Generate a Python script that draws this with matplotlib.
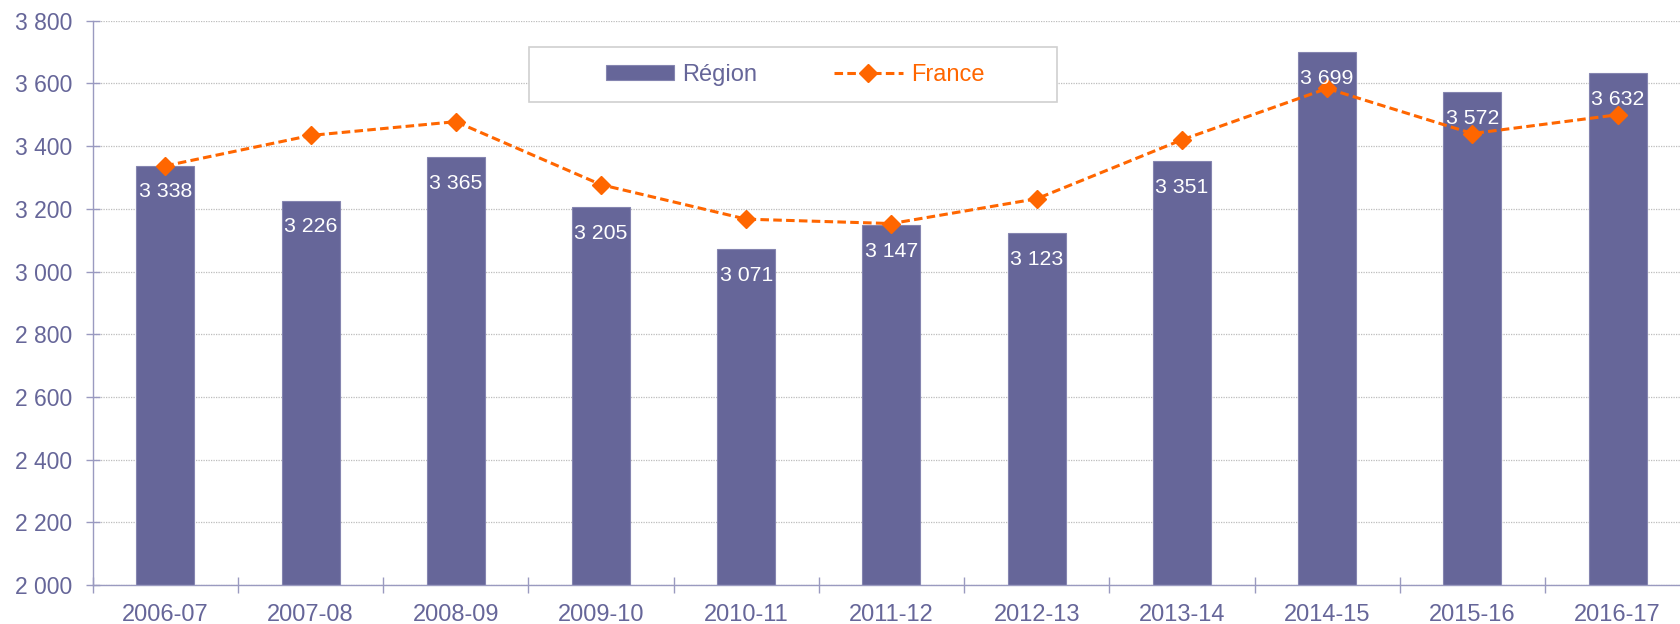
import matplotlib
matplotlib.use("Agg")
import matplotlib.pyplot as plt
from matplotlib.patches import Rectangle
from matplotlib.ticker import FixedLocator, FuncFormatter

## Data
years = ["2006-07", "2007-08", "2008-09", "2009-10", "2010-11", "2011-12",
         "2012-13", "2013-14", "2014-15", "2015-16", "2016-17"]
region = [3338, 3226, 3365, 3205, 3071, 3147, 3123, 3351, 3699, 3572, 3632]
france = [3337, 3434, 3478, 3277, 3167, 3153, 3232, 3420, 3584, 3440, 3500]

PURPLE = "#666699"
ORANGE = "#FF6600"
AXIS = "#9a9ac0"

plt.rcParams["font.family"] = ["Liberation Sans", "DejaVu Sans"]

def fmt(v):
    return f"{int(v):,}".replace(",", " ")

fig = plt.figure(figsize=(16.8, 6.24), dpi=100)
ax = fig.add_axes([0.0552, 0.0625, 0.9448, 0.9043])

x = list(range(len(years)))
bars = ax.bar(x, region, width=0.4, color=PURPLE, edgecolor="#8585b0",
              linewidth=0.8, zorder=2, label="Région")
line, = ax.plot(x, france, color=ORANGE, linestyle=(0, (2.8, 1.4)), linewidth=2.2,
                marker="D", markersize=9, zorder=3, label="France")

## Value labels inside the top of each bar
for xi, v in zip(x, region):
    ax.annotate(fmt(v), (xi, v), xytext=(0, -12),
                textcoords="offset points", ha="center", va="top",
                color="white", fontsize=15.3, zorder=5)

ax.set_ylim(2000, 3800)
ax.set_xlim(-0.5, 10.43)
ax.set_yticks(range(2000, 3801, 200))
ax.yaxis.set_major_formatter(FuncFormatter(lambda v, p: fmt(v)))
ax.grid(axis="y", color="#bdbdbd", linestyle=(0, (1, 1)), linewidth=0.9, zorder=0)

ax.set_xticks(x)
ax.set_xticklabels(years)
ax.xaxis.set_minor_locator(FixedLocator([i - 0.5 for i in range(len(years) + 1)]))
ax.tick_params(axis="x", which="major", length=0, pad=13.5, labelsize=17, labelcolor=PURPLE)
ax.tick_params(axis="x", which="minor", direction="inout", length=11, width=1, color=AXIS)
ax.tick_params(axis="y", direction="inout", length=10, width=1, color=AXIS,
               labelsize=16.5, labelcolor=PURPLE, pad=10)

for side in ["top", "right"]:
    ax.spines[side].set_visible(False)
for side in ["left", "bottom"]:
    ax.spines[side].set_color(AXIS)
    ax.spines[side].set_linewidth(1)

## Legend box drawn separately so the entries sit centred in it
fig.patches.append(Rectangle((0.3149, 0.8372), 0.3143, 0.0875, transform=fig.transFigure,
                             facecolor="white", edgecolor="#d0d0d0", linewidth=1.2, zorder=6))
leg = fig.legend(handles=[bars, line], labels=["Région", "France"],
                 loc="center", bbox_to_anchor=(0.4732, 0.8806), ncol=2,
                 frameon=False, fontsize=17, handlelength=2.9, handleheight=0.6,
                 handletextpad=0.35, columnspacing=3.25, borderpad=0)
leg.set_zorder(7)
for txt, col in zip(leg.get_texts(), [PURPLE, ORANGE]):
    txt.set_color(col)

fig.savefig("out.png", dpi=100)
